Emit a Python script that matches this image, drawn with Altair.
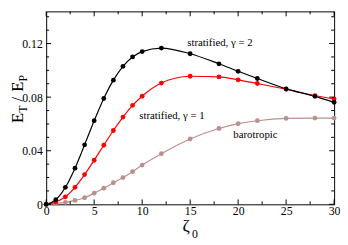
import altair as alt
import pandas as pd

# ---- data ----
zeta = [0, 1, 2, 3, 4, 5, 6, 7, 8, 9, 10, 12, 15, 18, 20, 22, 25, 28, 30]
gamma2 = [0, 0.0034, 0.0127, 0.027, 0.0444, 0.0624, 0.079, 0.0927, 0.103, 0.110,
          0.114, 0.1166, 0.1124, 0.1049, 0.0993, 0.0939, 0.0862, 0.0806, 0.0761]
gamma1 = [0, 0.0017, 0.0056, 0.0127, 0.0222, 0.0329, 0.0441, 0.0551, 0.0651, 0.0739,
          0.0807, 0.0905, 0.0956, 0.0951, 0.0929, 0.0902, 0.0859, 0.0812, 0.0786]
barotropic = [0, 0.0007, 0.0015, 0.0029, 0.0049, 0.0083, 0.012, 0.0161, 0.02, 0.0244,
              0.0293, 0.0378, 0.0488, 0.0566, 0.0602, 0.0624, 0.0641, 0.0644, 0.0644]

series_names = ["barotropic", "stratified, γ = 1", "stratified, γ = 2"]
series_colors = ["#bc8f8f", "#ff0000", "#000000"]

label_text = ["stratified, γ = 2", "stratified, γ = 1", "barotropic"]
label_x = [18.1, 13.1, 21.8]
label_y = [0.1200, 0.0656, 0.0516]

x_major = [0, 5, 10, 15, 20, 25, 30]
x_minor = [2.5, 7.5, 12.5, 17.5, 22.5, 27.5]
y_major = [0, 0.04, 0.08, 0.12]
y_minor = [0.01, 0.02, 0.03, 0.05, 0.06, 0.07, 0.09, 0.10, 0.11, 0.13, 0.14]

x_title = ["ζ", "0"]
y_title = ["E", "T", "/", "E", "P"]

# ---- layout ----
W, H = 294, 197
FONT = "Liberation Serif"
MAJ, MIN = 5, 3

xscale = alt.Scale(domain=[0, 30], nice=False, zero=False)
yscale = alt.Scale(domain=[0, 0.144], nice=False, zero=False)

rows = []
for k, (name, vals) in enumerate(zip(series_names, [barotropic, gamma1, gamma2])):
    for z, v in zip(zeta, vals):
        rows.append({"zeta": z, "ratio": v, "series": name, "k": k})
df = pd.DataFrame(rows)

color = alt.Color("series:N", scale=alt.Scale(domain=series_names, range=series_colors), legend=None)

xaxis = alt.Axis(values=x_major, ticks=False, domain=False, grid=False,
                 labelFont=FONT, labelFontSize=12, labelColor="black", labelPadding=1,
                 title=None, labelFlush=False)
yaxis = alt.Axis(values=y_major, ticks=False, domain=False, grid=False,
                 labelFont=FONT, labelFontSize=12, labelColor="black", labelPadding=4,
                 title=None, labelExpr="datum.value == 0 ? '0' : format(datum.value, '.2f')")

base = alt.Chart(df).encode(
    x=alt.X("zeta:Q", scale=xscale, axis=xaxis),
    y=alt.Y("ratio:Q", scale=yscale, axis=yaxis),
    color=color,
)
lines = base.mark_line(interpolate="monotone", strokeWidth=1.2)
points = base.mark_circle(size=24, opacity=1)


def xticks(vals, length):
    d = pd.DataFrame({"v": vals})
    bot = alt.Chart(d).mark_rule(color="black", strokeWidth=1).encode(
        x=alt.X("v:Q", scale=xscale, axis=xaxis), y=alt.value(H), y2=alt.value(H - length))
    top = alt.Chart(d).mark_rule(color="black", strokeWidth=1).encode(
        x=alt.X("v:Q", scale=xscale, axis=xaxis), y=alt.value(0), y2=alt.value(length))
    return [bot, top]


def yticks(vals, length):
    d = pd.DataFrame({"v": vals})
    lft = alt.Chart(d).mark_rule(color="black", strokeWidth=1).encode(
        y=alt.Y("v:Q", scale=yscale, axis=yaxis), x=alt.value(0), x2=alt.value(length))
    rgt = alt.Chart(d).mark_rule(color="black", strokeWidth=1).encode(
        y=alt.Y("v:Q", scale=yscale, axis=yaxis), x=alt.value(W), x2=alt.value(W - length))
    return [lft, rgt]


ticks = xticks(x_major, MAJ) + xticks(x_minor, MIN) + yticks(y_major, MAJ) + yticks(y_minor, MIN)

ldf = pd.DataFrame({"t": label_text, "x": label_x, "y": label_y})
labels = alt.Chart(ldf).mark_text(font=FONT, fontSize=11, align="center", baseline="middle",
                                  color="black").encode(
    x=alt.X("x:Q", scale=xscale, axis=xaxis),
    y=alt.Y("y:Q", scale=yscale, axis=yaxis),
    text="t:N",
)


def piece(txt, px, py, size, align="left", angle=0, dx=0, dy=0):
    return alt.Chart(pd.DataFrame({"t": [txt]})).mark_text(
        font=FONT, fontSize=size, align=align, baseline="alphabetic", angle=angle,
        dx=dx, dy=dy, color="black").encode(text="t:N", x=alt.value(px), y=alt.value(py))


title_layers = [
    piece(x_title[0], 143, 224, 18, align="center"),
    piece(x_title[1], 149, 231, 12),
]
# rotated y title, anchored at bottom of the label
ax, ay = -24, 114
offs = [(0, 0, 17), (10.4, 4, 12), (22, 0, 17), (32, 0, 17), (42.4, 4, 12)]
for txt, (ddx, ddy, sz) in zip(y_title, offs):
    title_layers.append(piece(txt, ax, ay, sz, angle=270, dx=ddx, dy=ddy))

chart = alt.layer(lines, points, *ticks, labels, *title_layers).properties(
    width=W, height=H,
    autosize=alt.AutoSizeParams(type="none"),
    padding={"left": 39, "top": 1, "right": 6, "bottom": 36},
    background="white",
).configure_view(stroke="black", strokeWidth=1)

chart.save("out.html", embed_options={"renderer": "svg", "actions": False})
